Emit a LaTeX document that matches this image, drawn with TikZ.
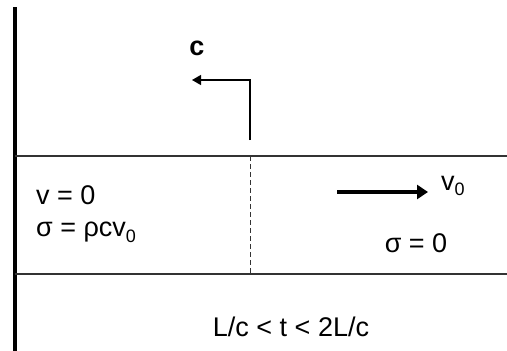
\documentclass[tikz,border=0pt]{standalone}
\usepackage{fontspec}
\setmainfont{Liberation Sans}
\usetikzlibrary{arrows.meta,positioning,calc}

\begin{document}
\begin{tikzpicture}[x=1pt,y=-1pt,
  lbl/.style={inner sep=0pt,font=\fontsize{27}{30}\selectfont},
  bar/.style={line width=1.3pt,black!80}]
\def\sub#1{\raisebox{-0.4ex}{\fontsize{18}{20}\selectfont#1}}
\useasboundingbox (0,0) rectangle (507,351);
% wall
\draw[line width=4.5pt] (15,7) -- (15,351);
% bar
\draw[bar] (15,156) -- (507,156);
\draw[bar] (15,274) -- (507,274);
\draw[dash pattern=on 5pt off 3pt,black!80] (250,156) -- (250,274);
% wave front
\coordinate (front) at (250,140);
\coordinate (bend) at (250,80);
\coordinate (tip) at (192,80);
\draw[line width=1.3pt,-{Triangle[length=9pt,width=10pt]}] (front) -- (bend) -- (tip);
\node[lbl,font=\fontsize{27}{30}\bfseries] (c) at (197,48) {c};
% left state
\node[lbl,anchor=west] (vzero) at (36,195) {v = 0};
\node[lbl,anchor=west] (sigL) at (36,232) {σ = ρcv\sub{0}};
% right state
\coordinate (vtail) at (337,192);
\coordinate (vhead) at (428,192);
\draw[line width=4pt,-{Triangle[length=11pt,width=14pt]}] (vtail) -- (vhead);
\node[lbl,anchor=west] (vnot) at (441,186) {v\sub{0}};
\node[lbl] (sigR) at (416,243) {σ = 0};
\node[lbl] (time) at (291,327) {L/c < t < 2L/c};
\end{tikzpicture}
\end{document}
